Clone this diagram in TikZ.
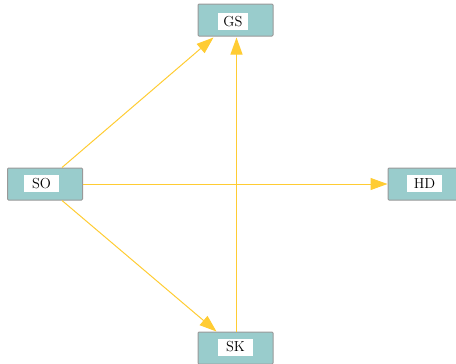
\documentclass[tikz,border=0pt]{standalone}
\usetikzlibrary{arrows.meta,calc}
\definecolor{boxfill}{HTML}{99CCCC}
\definecolor{boxline}{HTML}{999999}
\definecolor{edgecol}{HTML}{FFCC33}
\tikzset{
  unit/.style={draw=boxline, line width=1pt, fill=boxfill, minimum width=75pt, minimum height=32pt,
    inner sep=0pt, rounded corners=1pt},
  tag/.style={fill=white, inner sep=0pt, minimum width=35pt, minimum height=17pt,
    font=\fontsize{14.5}{14.5}\selectfont},
  link/.style={draw=edgecol, line width=1pt, -{Triangle[length=17pt,width=12pt]}}
}
\begin{document}
\begin{tikzpicture}[x=1pt,y=-1pt]
  \useasboundingbox (0,0) rectangle (456,364);
  % boxes
  \node[unit] (GS) at (235.5,20) {};
  \node[unit] (SO) at (45,184) {};
  \node[unit] (HD) at (425.5,184) {};
  \node[unit] (SK) at (235.5,348) {};
  % labels on white plates
  \node[tag, minimum width=30pt] (GSt) at (233,21.5) {GS};
  \node[tag] (SOt) at (41.5,183.5) {SO};
  \node[tag] (HDt) at (424.5,183.5) {HD};
  \node[tag] (SKt) at (235.5,347) {SK};
  % connectors
  \draw[link] ([xshift=17pt]SO.north) -- ([xshift=-22pt,yshift=-1pt]GS.south);
  \draw[link] (SO.east) -- (HD.west);
  \draw[link] ([xshift=17pt]SO.south) -- ([xshift=-19pt,yshift=0pt]SK.north);
  \draw[link] ([xshift=1pt]SK.north) -- ([xshift=1pt,yshift=-1pt]GS.south);
\end{tikzpicture}
\end{document}
